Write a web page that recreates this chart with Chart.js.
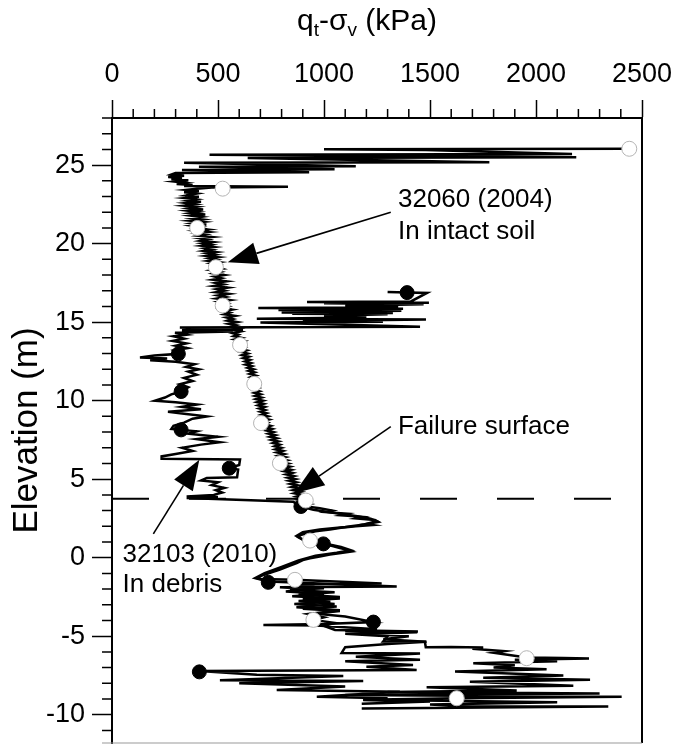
<!DOCTYPE html>
<html>
<head>
<meta charset="utf-8">
<script src="https://cdn.jsdelivr.net/npm/chart.js@4.4.1/dist/chart.umd.min.js"></script>
<style>
html, body { margin: 0; padding: 0; background: #fff; overflow: hidden; }
canvas { display: block; }
</style>
</head>
<body>
<canvas id="cpt" width="678" height="744"></canvas>
<script>
// [qt - sigma_v (kPa), elevation (m)]
const cpt2004 = [
  [2440,26.04],[1000,26.01],[1480,25.97],[2170,25.70],[460,25.66],[2190,25.50],[640,25.46],[1780,25.19],[340,25.15],[1150,24.93],
  [410,24.89],[1050,24.73],[330,24.69],[930,24.54],[300,24.50],[280,24.40],[340,24.33],[265,24.25],[330,24.18],[280,24.10],
  [360,24.03],[295,23.95],[345,23.87],[305,23.80],[380,23.73],[340,23.67],[830,23.62],[470,23.58],[400,23.50],[350,23.42],
  [410,23.35],[340,23.27],[400,23.19],[350,23.06],[410,22.98],[345,22.90],[395,22.82],[360,22.74],[420,22.66],[350,22.58],
  [390,22.50],[340,22.42],[400,22.34],[365,22.26],[430,22.18],[360,22.10],[405,22.02],[370,21.94],[440,21.86],[375,21.78],
  [420,21.70],[380,21.62],[425,21.54],[370,21.46],[430,21.38],[385,21.30],[445,21.22],[380,21.14],[420,21.06],[395,20.98],
  [450,20.90],[400,20.82],[455,20.74],[405,20.66],[440,20.58],[410,20.50],[470,20.42],[415,20.34],[450,20.26],[420,20.18],
  [475,20.10],[430,20.02],[465,19.94],[425,19.86],[480,19.78],[440,19.70],[470,19.62],[435,19.54],[490,19.46],[450,19.38],
  [485,19.30],[445,19.22],[500,19.14],[460,19.06],[490,18.98],[455,18.90],[505,18.82],[470,18.74],[500,18.66],[475,18.58],
  [495,18.50],[520,18.40],[470,18.30],[510,18.20],[480,18.10],[530,18.00],[485,17.90],[515,17.80],[475,17.70],[540,17.60],
  [490,17.50],[525,17.40],[480,17.30],[545,17.20],[495,17.10],[530,17.00],[490,16.90],[550,16.80],[500,16.70],[535,16.60],
  [495,16.50],[555,16.40],[505,16.30],[540,16.20],[510,16.10],[545,16.00],[515,15.90],[565,15.80],[525,15.70],[555,15.60],
  [530,15.50],[580,15.40],[540,15.30],[570,15.20],[545,15.10],[590,15.00],[550,14.90],[585,14.80],[560,14.70],[600,14.60],
  [565,14.50],[605,14.40],[570,14.30],[595,14.20],[575,14.10],[610,14.00],[580,13.90],[620,13.80],[590,13.70],[615,13.60],
  [600,13.50],[625,13.40],[605,13.30],[635,13.20],[610,13.10],[640,13.00],[615,12.90],[645,12.80],[620,12.70],[650,12.60],
  [628,12.50],[655,12.40],[630,12.30],[660,12.20],[640,12.10],[668,12.00],[645,11.90],[672,11.80],[650,11.70],[678,11.60],
  [655,11.50],[680,11.40],[660,11.30],[685,11.20],[662,11.10],[688,11.00],[665,10.90],[690,10.80],[668,10.70],[695,10.60],
  [672,10.50],[700,10.40],[675,10.30],[705,10.20],[680,10.10],[712,10.00],[685,9.90],[715,9.80],[690,9.70],[720,9.60],
  [695,9.50],[722,9.40],[700,9.30],[728,9.20],[705,9.10],[735,9.00],[708,8.90],[740,8.80],[712,8.70],[735,8.60],
  [718,8.50],[748,8.40],[725,8.30],[755,8.20],[730,8.10],[762,8.00],[738,7.90],[770,7.80],[745,7.70],[778,7.60],
  [752,7.50],[785,7.40],[760,7.30],[790,7.20],[768,7.10],[798,7.00],[772,6.90],[805,6.80],[778,6.70],[812,6.60],
  [785,6.50],[818,6.40],[790,6.30],[825,6.20],[795,6.10],[830,6.00],[800,5.90],[838,5.80],[808,5.70],[845,5.60],
  [815,5.50],[850,5.40],[822,5.30],[858,5.20],[830,5.10],[865,5.00],[835,4.90],[870,4.80],[842,4.70],[878,4.60],
  [848,4.50],[885,4.40],[855,4.30],[890,4.20],[860,4.10],[895,4.00],[870,3.90],[905,3.80],[880,3.70],[914,3.62],
  [880,3.50],[930,3.40],[900,3.30],[980,3.15],[1040,3.00],[1010,2.90],[1110,2.80],[1080,2.70],[1180,2.60],[1150,2.50],
  [1240,2.40],[1256,2.28],[1200,2.15],[1230,2.08],[1150,2.00],[1080,1.90],[1028,1.80],[960,1.68],[918,1.56],[890,1.45],
  [879,1.30],[900,1.15],[918,1.03],[960,0.95],[1000,0.85],[1040,0.75],[1075,0.62],[1110,0.50],[1131,0.40],[1080,0.30],
  [1028,0.20],[980,0.08],[934,-0.03],[900,-0.15],[871,-0.35],[840,-0.50],[792,-0.75],[760,-0.90],[714,-1.10],[683,-1.30],
  [700,-1.36],[863,-1.40],[1272,-1.65],[850,-1.70],[1000,-1.95],[840,-2.05],[1050,-2.20],[880,-2.35],[1075,-2.50],[900,-2.65],
  [1030,-2.80],[860,-2.95],[1060,-3.10],[900,-3.25],[1075,-3.40],[930,-3.60],[1000,-3.80],[950,-3.96],[1050,-4.15],[1000,-4.35],
  [1250,-4.55],[1100,-4.65],[1440,-4.75],[1200,-4.85],[1400,-5.00],[1280,-5.20],[1476,-5.35],[1480,-5.70],[1600,-5.68],[1751,-5.72],
  [1700,-5.80],[1850,-5.95],[1800,-6.05],[1956,-6.35],[2129,-6.38],[2250,-6.42],[1900,-6.50],[2100,-6.60],[1704,-6.72],[1900,-6.85],
  [1800,-7.00],[2050,-7.10],[1618,-7.25],[2129,-7.50],[1751,-7.65],[2255,-7.78],[1688,-7.90],[2176,-8.15],[1484,-8.25],[1909,-8.45],
  [1300,-8.55],[2300,-8.65],[1100,-8.75],[2404,-8.85],[1626,-8.95],[1185,-9.05],[2100,-9.20],[1500,-9.35],[1657,-9.46],[2341,-9.48],
  [1484,-9.57],[1178,-9.60]
];

const cpt2010 = [
  [1300,16.92],[1392,16.88],[1486,16.86],[1410,16.32],[920,16.28],[1495,16.24],[1000,16.20],[1470,16.14],[1100,16.05],[1350,15.95],
  [690,15.90],[1373,15.86],[785,15.77],[1365,15.73],[800,15.62],[1325,15.58],[850,15.54],[1300,15.50],[1000,15.40],[1200,15.30],
  [683,15.21],[1481,15.17],[900,15.08],[1278,15.02],[700,14.98],[1453,14.70],[320,14.66],[618,14.52],[330,14.48],[570,14.40],
  [297,14.32],[350,14.20],[290,14.10],[340,13.95],[285,13.80],[350,13.65],[300,13.50],[355,13.35],[290,13.20],[313,12.98],
  [200,12.88],[132,12.75],[260,12.68],[180,12.58],[300,12.48],[390,12.32],[350,12.15],[410,12.00],[360,11.85],[400,11.65],
  [340,11.45],[380,11.25],[320,11.05],[360,10.85],[326,10.58],[280,10.40],[250,10.20],[203,10.00],[300,9.90],[400,9.75],
  [330,9.60],[420,9.45],[264,9.30],[350,9.15],[447,9.00],[380,8.85],[340,8.60],[290,8.40],[280,8.20],[326,8.14],
  [400,8.05],[360,7.90],[500,7.70],[400,7.55],[509,7.35],[420,7.20],[330,7.00],[380,6.80],[300,6.60],[234,6.45],
  [234,6.30],[604,6.26],[600,5.90],[570,5.78],[553,5.70],[595,5.62],[590,5.12],[447,5.08],[420,4.92],[500,4.80],
  [470,4.62],[530,4.45],[490,4.30],[520,4.15],[480,4.00],[352,3.90],[500,3.86],[352,3.80],[855,3.57],[891,3.26],
  [950,3.05],[1050,2.85],[1150,2.65],[1220,2.48],[1248,2.32],[1190,2.12],[1100,1.96],[980,1.80],[900,1.62],[870,1.38],
  [900,1.15],[997,0.92],[1080,0.68],[1125,0.48],[1060,0.32],[960,0.12],[880,-0.18],[800,-0.58],[720,-0.98],[675,-1.30],
  [737,-1.52],[1343,-1.84],[792,-1.88],[920,-2.00],[820,-2.15],[1000,-2.30],[850,-2.45],[1075,-2.60],[880,-2.75],[1050,-2.95],
  [870,-3.15],[1075,-3.35],[950,-3.55],[1100,-3.75],[1233,-4.10],[1000,-4.22],[714,-4.28],[996,-4.32],[1052,-4.60],[1443,-4.70],
  [1100,-4.85],[1300,-5.00],[1279,-5.34],[1484,-5.36],[1300,-5.50],[1100,-5.70],[1083,-6.07],[1453,-6.10],[1150,-6.30],[1453,-6.50],
  [1100,-6.60],[1420,-6.83],[1200,-6.95],[1437,-7.15],[412,-7.22],[683,-7.46],[1091,-7.53],[509,-7.80],[1185,-7.85],[600,-8.00],
  [1100,-8.20],[777,-8.42],[1358,-8.53],[966,-8.85],[1300,-8.95],[1185,-9.06],[1500,-9.16],[1178,-9.30]
];

// symbols every 2.5 m
const marks2004 = [[2440,26.04],[522,23.5],[402,21.0],[490,18.5],[522,16.06],[604,13.55],[671,11.07],[703,8.57],
  [792,6.02],[914,3.64],[934,1.09],[863,-1.41],[950,-3.96],[1956,-6.4],[1626,-8.95]];
const marks2010 = [[1392,16.88],[313,12.98],[326,10.58],[326,8.14],[553,5.7],[891,3.26],[997,0.88],[737,-1.57],
  [1233,-4.1],[412,-7.27]];

const failureElev = 3.75;
const failureSpan = [0, 2354];

const xTicks = [0, 500, 1000, 1500, 2000, 2500];
const yTicks = [-10, -5, 0, 5, 10, 15, 20, 25];
const xMinor = [100,200,300,400,600,700,800,900,1100,1200,1300,1400,1600,1700,1800,1900,2100,2200,2300,2400];
const yMinor = [-11,-9,-8,-7,-6,-4,-3,-2,-1,1,2,3,4,6,7,8,9,11,12,13,14,16,17,18,19,21,22,23,24,26,27,28];

// labels: [text, qt, elev]
const labels = [
  ["32060 (2004)", 1349, 22.79], ["In intact soil", 1349, 20.75],
  ["Failure surface", 1349, 8.33],
  ["32103 (2010)", 50, 0.18], ["In debris", 50, -1.73]
];
// arrows: [fromQt, fromElev, toQt, toElev]
const arrows = [
  [1315, 22.0, 546, 18.82],
  [1315, 8.35, 860, 4.11],
  [195, 1.52, 412, 6.23]
];

const FONT = "'Liberation Sans', Arial, sans-serif";
const pts = a => a.map(p => ({x: p[0], y: p[1]}));

const extras = {
  id: 'extras',
  afterDraw(chart) {
    const ctx = chart.ctx, a = chart.chartArea;
    const xs = chart.scales.x, ys = chart.scales.y;
    ctx.save();
    ctx.strokeStyle = '#000';
    ctx.lineWidth = 1.5;
    ctx.beginPath();
    xMinor.forEach(v => { const px = xs.getPixelForValue(v); ctx.moveTo(px, a.top); ctx.lineTo(px, a.top - 9); });
    yMinor.forEach(v => { const py = ys.getPixelForValue(v); ctx.moveTo(a.left, py); ctx.lineTo(a.left - 10, py); });
    ctx.stroke();

    // frame
    ctx.lineWidth = 2;
    ctx.beginPath();
    ctx.moveTo(a.left, a.bottom); ctx.lineTo(a.left, a.top); ctx.lineTo(a.right, a.top); ctx.lineTo(a.right, a.bottom);
    ctx.stroke();
    ctx.strokeStyle = '#999';
    ctx.lineWidth = 1;
    ctx.beginPath(); ctx.moveTo(a.left - 10, a.bottom); ctx.lineTo(a.right, a.bottom); ctx.stroke();

    // x title with subscripts
    ctx.fillStyle = '#000';
    ctx.textBaseline = 'alphabetic';
    const big = '30px ' + FONT, small = '19px ' + FONT;
    const parts = [['q', big, 0], ['t', small, 6], ['-\u03c3', big, 0], ['v', small, 6], [' (kPa)', big, 0]];
    let w = 0;
    parts.forEach(p => { ctx.font = p[1]; w += ctx.measureText(p[0]).width; });
    let cx = (a.left + a.right) / 2 - 10 - w / 2;
    parts.forEach(p => { ctx.font = p[1]; ctx.fillText(p[0], cx, 30 + p[2]); cx += ctx.measureText(p[0]).width; });

    // annotations
    ctx.font = '26px ' + FONT;
    ctx.textAlign = 'left';
    ctx.textBaseline = 'middle';
    labels.forEach(l => ctx.fillText(l[0], xs.getPixelForValue(l[1]), ys.getPixelForValue(l[2])));

    ctx.lineWidth = 1.6;
    ctx.strokeStyle = '#000';
    arrows.forEach(r => {
      const x1 = xs.getPixelForValue(r[0]), y1 = ys.getPixelForValue(r[1]);
      const x2 = xs.getPixelForValue(r[2]), y2 = ys.getPixelForValue(r[3]);
      const ang = Math.atan2(y2 - y1, x2 - x1), len = 30, hw = 11;
      const bx = x2 - len * Math.cos(ang), by = y2 - len * Math.sin(ang);
      ctx.beginPath(); ctx.moveTo(x1, y1); ctx.lineTo(bx, by); ctx.stroke();
      ctx.beginPath();
      ctx.moveTo(x2, y2);
      ctx.lineTo(bx + hw * Math.sin(ang), by - hw * Math.cos(ang));
      ctx.lineTo(bx - hw * Math.sin(ang), by + hw * Math.cos(ang));
      ctx.closePath(); ctx.fill();
    });
    ctx.restore();
  }
};

new Chart(document.getElementById('cpt').getContext('2d'), {
  type: 'scatter',
  data: {
    datasets: [
      { label: '32060 (2004) symbols', data: pts(marks2004), pointRadius: 7.5, pointBackgroundColor: '#fff',
        pointBorderColor: '#b4b4b4', pointBorderWidth: 1, order: 1 },
      { label: '32103 (2010) symbols', data: pts(marks2010), pointRadius: 7, pointBackgroundColor: '#000',
        pointBorderColor: '#000', pointBorderWidth: 1, order: 1 },
      { label: '32060 (2004)', data: pts(cpt2004), showLine: true, borderColor: '#000', borderWidth: 2.5,
        pointRadius: 0, order: 2 },
      { label: '32103 (2010)', data: pts(cpt2010), showLine: true, borderColor: '#000', borderWidth: 2.5,
        pointRadius: 0, order: 2 },
      { label: 'Failure surface', data: failureSpan.map(v => ({x: v, y: failureElev})), showLine: true,
        borderColor: '#000', borderWidth: 2, borderDash: [37, 40], pointRadius: 0, order: 2 }
    ]
  },
  options: {
    responsive: false,
    animation: false,
    devicePixelRatio: 1,
    layout: { autoPadding: false, padding: { left: 0, right: 36, top: 0, bottom: 1 } },
    plugins: { legend: { display: false }, tooltip: { enabled: false } },
    scales: {
      x: {
        type: 'linear', position: 'top', min: 0, max: 2500,
        afterBuildTicks: s => { s.ticks = xTicks.map(v => ({value: v})); },
        afterFit: s => { s.height = 118; s.paddingLeft = 0; s.paddingRight = 0; },
        ticks: { color: '#000', font: { size: 27, family: FONT }, padding: 9, maxRotation: 0, autoSkip: false,
                 callback: v => String(v) },
        grid: { drawOnChartArea: false, tickLength: 18, tickWidth: 1.5, tickColor: '#000' },
        border: { color: '#000', width: 2 }
      },
      y: {
        type: 'linear', min: -11.8, max: 28,
        afterBuildTicks: s => { s.ticks = yTicks.map(v => ({value: v})); },
        afterFit: s => { s.width = 112; s.paddingTop = 0; s.paddingBottom = 0; },
        ticks: { color: '#000', font: { size: 27, family: FONT }, padding: 7, autoSkip: false,
                 callback: v => String(v) },
        grid: { drawOnChartArea: false, tickLength: 20, tickWidth: 1.5, tickColor: '#000' },
        border: { color: '#000', width: 2 },
        title: { display: true, text: 'Elevation (m)', color: '#000', font: { size: 35, family: FONT },
                 padding: { top: 6, bottom: 0 } }
      }
    }
  },
  plugins: [extras]
});
</script>
</body>
</html>
